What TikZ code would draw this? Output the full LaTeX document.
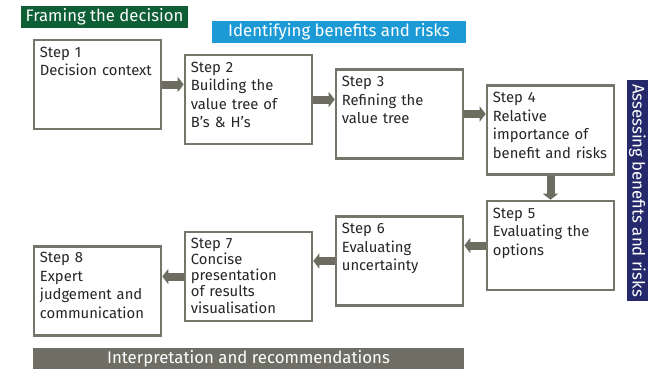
\documentclass[tikz,border=0pt]{standalone}
\usepackage{fontspec}
\setmainfont{Fira Sans}
\usetikzlibrary{arrows.meta}
\definecolor{boxgray}{HTML}{75756A}
\definecolor{arrgray}{HTML}{6C6C60}
\definecolor{framegreen}{HTML}{0E5E36}
\definecolor{idblue}{HTML}{1C9AD6}
\definecolor{assessnavy}{HTML}{25296B}
\definecolor{interpgray}{HTML}{6E6E64}
\tikzset{
  stepbox/.style={draw=boxgray, line width=2.6pt, fill=white, minimum width=127pt, minimum height=89pt, inner sep=0pt},
  steptext/.style={anchor=north west, align=left, text width=124pt, inner sep=0pt, font=\fontsize{14.8}{18.5}\selectfont, text=black!85},
  flow/.style={draw=arrgray, line width=8pt, -{Triangle[width=15pt,length=6pt]}},
  banner/.style={inner sep=0pt, text=white},
}
\begin{document}
\begin{tikzpicture}[x=1pt,y=-1pt]
\useasboundingbox (0,0) rectangle (655,369);
% banners
\node[banner, fill=framegreen, minimum width=167pt, minimum height=22pt, font=\fontsize{16.7}{18}\selectfont] (frame) at (104.5,17) {Framing the decision};
\node[banner, fill=idblue, minimum width=254pt, minimum height=22pt, font=\fontsize{16.8}{18}\selectfont] (ident) at (339,32) {Identifying benefits and risks};
\node[banner, fill=assessnavy, minimum width=221pt, minimum height=21pt, rotate=-90, font=\fontsize{16.8}{18}\selectfont] (assess) at (637.5,190.5) {Assessing benefits and risks};
\node[banner, fill=interpgray, minimum width=431pt, minimum height=21pt, font=\fontsize{16.8}{18}\selectfont] (interp) at (248.5,358.5) {Interpretation and recommendations};
% boxes
\node[stepbox] (s1) at (97.5,84.5) {};
\node[stepbox] (s2) at (248.5,99.5) {};
\node[stepbox] (s3) at (399.5,114) {};
\node[stepbox] (s4) at (550.5,130) {};
\node[stepbox] (s5) at (550.5,245.5) {};
\node[stepbox] (s6) at (399.5,261) {};
\node[stepbox] (s7) at (248.5,276.5) {};
\node[stepbox] (s8) at (97.5,291) {};
% texts
\node[steptext] (t1) at ([xshift=7pt,yshift=-8pt]s1.north west) {Step 1\\Decision context};
\node[steptext] (t2) at ([xshift=7pt,yshift=-8pt]s2.north west) {Step 2\\Building the\\value tree of\\B’s \& H’s};
\node[steptext] (t3) at ([xshift=7pt,yshift=-8pt]s3.north west) {Step 3\\Refining the\\value tree};
\node[steptext] (t4) at ([xshift=7pt,yshift=-8pt]s4.north west) {Step 4\\Relative\\importance of\\benefit and risks};
\node[steptext] (t5) at ([xshift=7pt,yshift=-8pt]s5.north west) {Step 5\\Evaluating the\\options};
\node[steptext] (t6) at ([xshift=7pt,yshift=-8pt]s6.north west) {Step 6\\Evaluating\\uncertainty};
\node[steptext, font=\fontsize{14.8}{16.2}\selectfont] (t7) at ([xshift=7pt,yshift=-7pt]s7.north west) {Step 7\\Concise\\presentation\\of results\\visualisation};
\node[steptext] (t8) at ([xshift=7pt,yshift=-7pt]s8.north west) {Step 8\\Expert\\judgement and\\communication};
% arrows
\draw[flow] (s1.east) -- (s2.west |- s1.east);
\draw[flow] (s2.east) -- (s3.west |- s2.east);
\draw[flow] (s3.east) -- (s4.west |- s3.east);
\draw[flow] (s4.south) -- (s5.north);
\draw[flow] (s5.west) -- (s6.east |- s5.west);
\draw[flow] (s6.west) -- (s7.east |- s6.west);
\draw[flow] (s7.west) -- (s8.east |- s7.west);
\end{tikzpicture}
\end{document}
